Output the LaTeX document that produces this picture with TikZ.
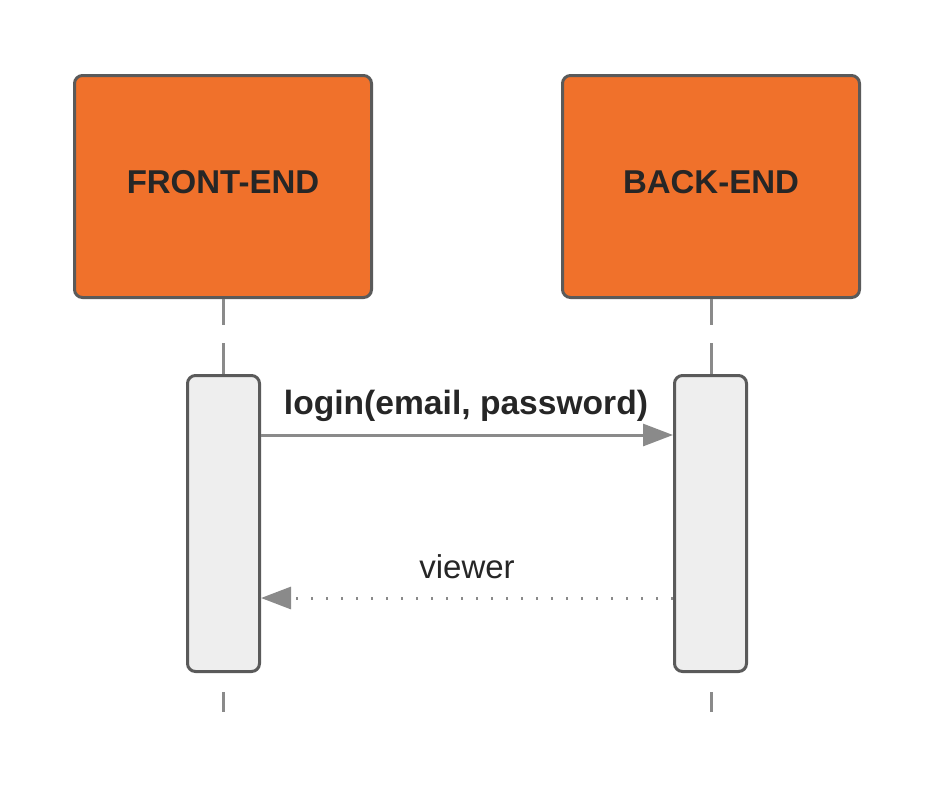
\documentclass[tikz,border=0pt]{standalone}
\usepackage{fontspec}
\setmainfont{Liberation Sans}
\usepackage{tikz}
\usepackage{xcolor}
\usetikzlibrary{
    arrows.meta,
    calc,
    positioning
}
\definecolor{lanefill}{HTML}{F0712B}
\definecolor{edgegray}{HTML}{5A5A5A}
\definecolor{linegray}{HTML}{8A8A8A}
\definecolor{actfill}{HTML}{EEEEEE}
\definecolor{textdark}{HTML}{262626}
\tikzset{
    lane/.style={draw=edgegray, fill=lanefill, line width=1.5pt, rounded corners=4pt,
        minimum width=148.5pt, minimum height=111pt, inner sep=0pt, text depth=5pt,
        font=\fontsize{16.5}{20}\selectfont\bfseries, text=textdark},
    activation/.style={draw=edgegray, fill=actfill, line width=1.5pt, rounded corners=4pt,
        minimum width=36pt, minimum height=148pt, inner sep=0pt},
    lifeline/.style={draw=linegray, line width=1.5pt, dash pattern=on 13pt off 9pt on 20pt},
    lifetail/.style={draw=linegray, line width=1.5pt, dash pattern=on 0pt off 9.5pt on 12pt},
    msg/.style={draw=linegray, line width=1.5pt, -{Triangle[length=15pt, width=11pt]}},
    reply/.style={msg, dash pattern=on 1pt off 6.5pt},
    msglabel/.style={font=\fontsize{16.5}{20}\selectfont, text=textdark}
}
\begin{document}
\begin{tikzpicture}[x=0.5pt, y=-0.5pt]
    \useasboundingbox (0, 0) rectangle (936, 788);
    % lanes
    \node[lane] (front) at (223, 186.5) {FRONT-END};
    \node[lane] (back) at (711, 186.5) {BACK-END};
    % activations
    \node[activation] (frontact) at (223.5, 523.5) {};
    \node[activation] (backact) at (710.5, 523.5) {};
    \coordinate (frontend) at (223, 712);
    \coordinate (backend) at (711, 712);
    \draw[lifeline] (front.south) -- (front.south |- frontact.north);
    \draw[lifeline] (back.south) -- (back.south |- backact.north);
    \draw[lifetail] (frontend |- frontact.south) -- (frontend);
    \draw[lifetail] (backend |- backact.south) -- (backend);
    % messages
    \node[msglabel, font=\fontsize{16.8}{20}\selectfont\bfseries] (login) at (466, 406) {login(email, password)};
    \node[msglabel] (viewer) at (467, 567) {viewer};
    \coordinate (request) at (466, 435);
    \coordinate (response) at (466, 598);
    \draw[msg] (frontact.east |- request) -- (backact.west |- request);
    \draw[reply] (backact.west |- response) -- (frontact.east |- response);
\end{tikzpicture}
\end{document}
